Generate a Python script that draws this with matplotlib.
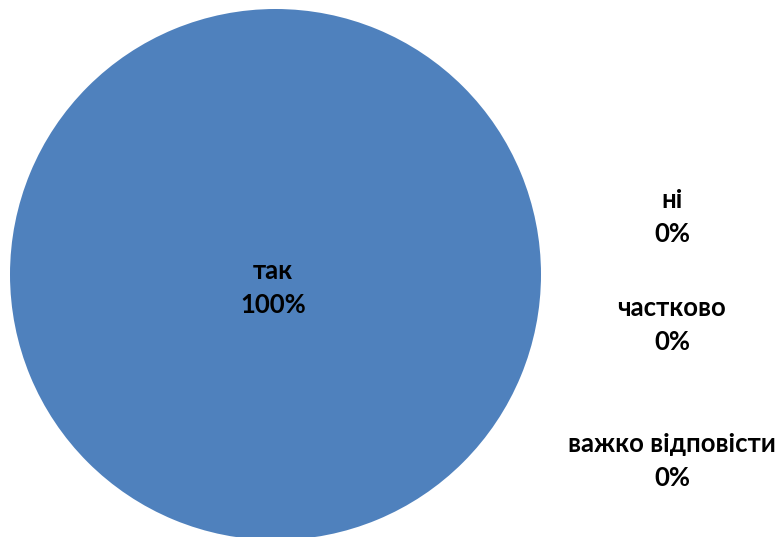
import matplotlib
matplotlib.use('Agg')
import matplotlib.pyplot as plt

# Дані
labels = ['так', 'ні', 'частково', 'важко відповісти']
values = [100, 0, 0, 0]

# Розміщення підписів (у координатах осей, радіус = 1)
label_pos = [(-0.01, -0.049), (1.493, 0.218), (1.493, -0.190), (1.493, -0.702)]

W, H = 784, 537
cx, cy, r = 275.5, 274.5, 265.5

fig = plt.figure(figsize=(W / 100, H / 100), dpi=100)
ax = fig.add_axes([(cx - r) / W, (H - cy - r) / H, 2 * r / W, 2 * r / H])
ax.pie(values, colors=['#4F81BD', '#C0504D', '#9BBB59', '#8064A2'],
       startangle=90, counterclock=False,
       wedgeprops=dict(linewidth=0))
ax.set_xlim(-1, 1)
ax.set_ylim(-1, 1)
ax.set_aspect('auto')
ax.axis('off')

total = sum(values)
for lab, v, (x, y) in zip(labels, values, label_pos):
    pct = round(100 * v / total)
    ax.text(x, y, f'{lab}\n{pct}%', ha='center', va='center',
            fontsize=18.5, fontweight='bold', family='Lato',
            linespacing=1.5, color='black', clip_on=False)

fig.savefig('out.png', dpi=100)
